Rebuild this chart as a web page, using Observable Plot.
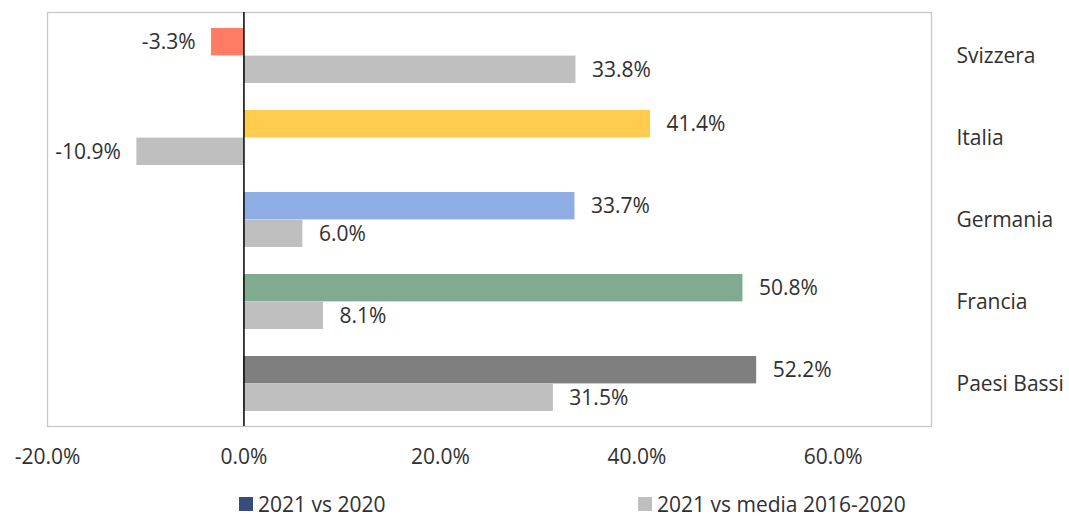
<!DOCTYPE html>
<html>
<head>
<meta charset="utf-8">
<script src="https://cdn.jsdelivr.net/npm/d3@7"></script>
<script src="https://cdn.jsdelivr.net/npm/@observablehq/plot@0.6"></script>
<style>
  html, body { margin: 0; padding: 0; background: #fff; }
  #wrap { width: 1069px; font-family: "Open Sans", "Noto Sans", sans-serif; color: #303030; }
  #legend { position: relative; height: 36px; font-size: 21px; }
  .item { position: absolute; top: 12px; display: flex; align-items: center; line-height: 24px; }
  .sw { width: 14px; height: 14px; margin-right: 5px; }
</style>
</head>
<body>
<div id="wrap">
  <div id="chart"></div>
  <div id="legend"></div>
</div>
<script>
// ---- data ----
const countries = ["Svizzera", "Italia", "Germania", "Francia", "Paesi Bassi"];
const vs2020 = [-3.3, 41.4, 33.7, 50.8, 52.2];
const vsMedia = [33.8, -10.9, 6.0, 8.1, 31.5];
const countryColors = ["#FF7B63", "#FFCC50", "#8EADE4", "#80AB91", "#7F7F7F"];
const mediaColor = "#BFBFBF";
const seriesNames = ["2021 vs 2020", "2021 vs media 2016-2020"];
const legendColors = ["#374D80", "#BFBFBF"];
const xTicks = [-20, 0, 20, 40, 60];
const xDomain = [-20, 70];

// ---- layout ----
const W = 1069, H = 480;
const mt = 12, mb = 54, ml = 47, mr = 138;
const step = (H - mt - mb) / countries.length;
const bw = step * 2 / 3;
const half = bw / 2;

const rowsA = countries.map((c, i) => ({country: c, value: vs2020[i], color: countryColors[i], label: vs2020[i].toFixed(1) + "%"}));
const rowsB = countries.map((c, i) => ({country: c, value: vsMedia[i], color: mediaColor, label: vsMedia[i].toFixed(1) + "%"}));

const textStyle = {fontSize: 21, fill: "#303030"};

const chart = Plot.plot({
  width: W,
  height: H,
  marginTop: mt,
  marginBottom: mb,
  marginLeft: ml,
  marginRight: mr,
  style: {fontFamily: "'Open Sans', 'Noto Sans', sans-serif", fontSize: "21px", color: "#303030", background: "#fff"},
  x: {domain: xDomain, ticks: xTicks, tickFormat: d => d.toFixed(1) + "%", tickSize: 0, tickPadding: 23, label: null},
  y: {domain: countries, paddingInner: 1/3, paddingOuter: 1/6, axis: "right", tickSize: 0, tickPadding: 25, label: null},
  color: {type: "identity"},
  marks: [
    Plot.frame({stroke: "#C8C8C8", strokeWidth: 1.3}),
    Plot.barX(rowsA, {x: "value", y: "country", fill: "color", insetBottom: half}),
    Plot.barX(rowsB, {x: "value", y: "country", fill: "color", insetTop: half}),
    Plot.ruleX([0], {stroke: "#000", strokeWidth: 1.5}),
    Plot.text(rowsA.filter(d => d.value >= 0), {x: "value", y: "country", text: "label", dy: -half / 2, dx: 16, textAnchor: "start", ...textStyle}),
    Plot.text(rowsA.filter(d => d.value < 0), {x: "value", y: "country", text: "label", dy: -half / 2, dx: -16, textAnchor: "end", ...textStyle}),
    Plot.text(rowsB.filter(d => d.value >= 0), {x: "value", y: "country", text: "label", dy: half / 2, dx: 16, textAnchor: "start", ...textStyle}),
    Plot.text(rowsB.filter(d => d.value < 0), {x: "value", y: "country", text: "label", dy: half / 2, dx: -16, textAnchor: "end", ...textStyle})
  ]
});
document.getElementById("chart").appendChild(chart);

// legend
const legend = document.getElementById("legend");
const legendLeft = [239, 638];
seriesNames.forEach((name, i) => {
  const it = document.createElement("div");
  it.className = "item";
  it.style.left = legendLeft[i] + "px";
  const sw = document.createElement("span");
  sw.className = "sw";
  sw.style.background = legendColors[i];
  const tx = document.createElement("span");
  tx.textContent = name;
  it.appendChild(sw);
  it.appendChild(tx);
  legend.appendChild(it);
});
</script>
</body>
</html>
